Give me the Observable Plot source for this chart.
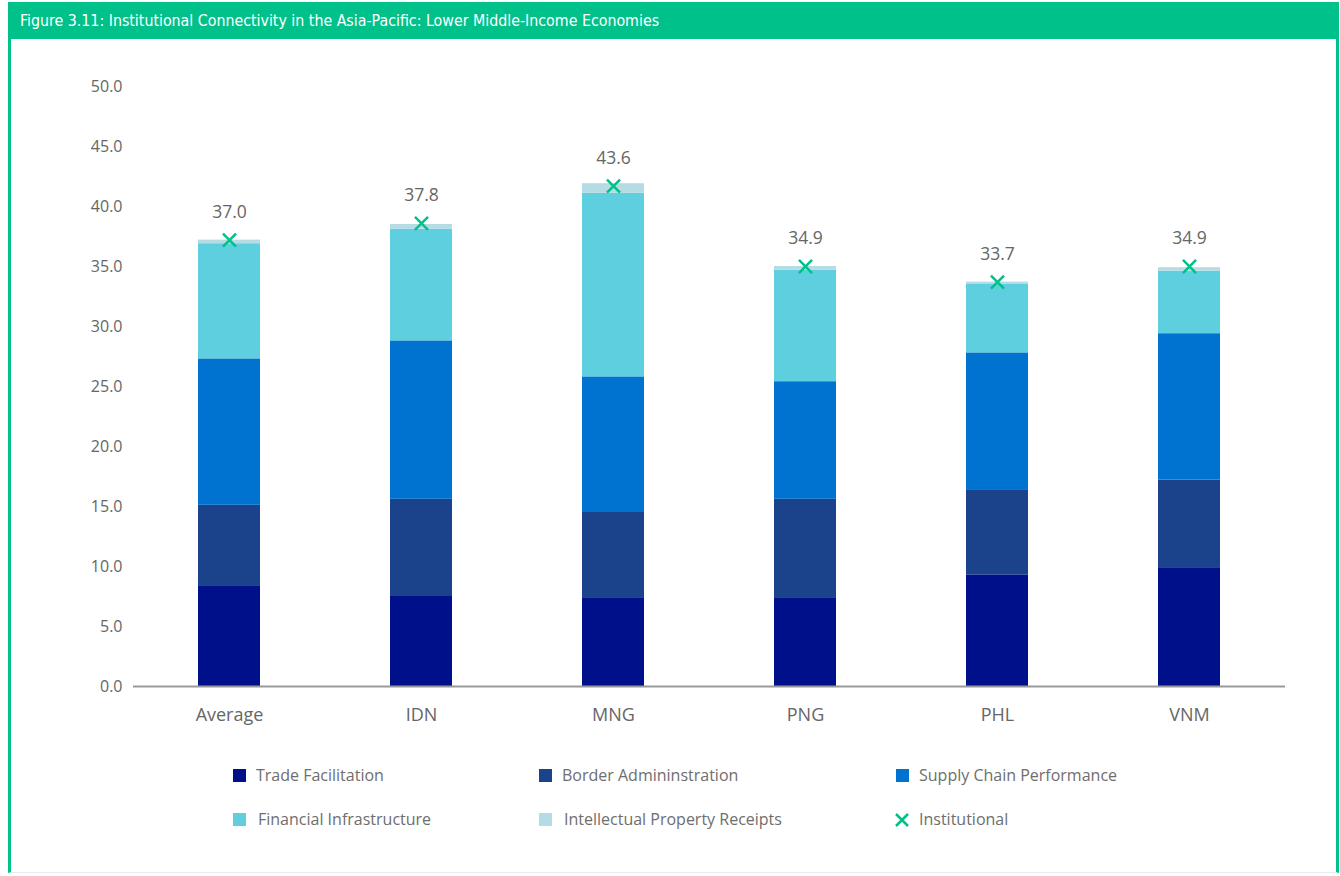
<!DOCTYPE html>
<html>
<head>
<meta charset="utf-8">
<script src="https://cdn.jsdelivr.net/npm/d3@7"></script>
<script src="https://cdn.jsdelivr.net/npm/@observablehq/plot@0.6"></script>
<style>
  html, body { margin: 0; padding: 0; background: #ffffff; }
  body { width: 1340px; height: 876px; position: relative; overflow: hidden; font-family: "Open Sans", "Noto Sans", sans-serif; }
  #frame { position: absolute; left: 8px; top: 2px; width: 1325px; height: 870px; border-left: 3px solid #00c18a; border-right: 3px solid #00c18a; border-bottom: 1px solid #e6ece9; }
  #title { position: absolute; left: 8px; top: 2px; width: 1331px; height: 37px; background: #00c18a; color: #ffffff;
           font-family: "Liberation Sans Narrow", "DejaVu Sans Condensed", sans-serif; font-stretch: condensed; font-size: 15.8px; line-height: 37px; padding-left: 12px; box-sizing: border-box; }
  #chart { position: absolute; left: 0; top: 40px; }
  .leg { position: absolute; font-size: 16px; color: #6e6e6e; white-space: nowrap; line-height: 20px; }
  .sw { position: absolute; width: 13px; height: 13px; }
</style>
</head>
<body>
<div id="frame"></div>
<div id="title">Figure 3.11: Institutional Connectivity in the Asia-Pacific: Lower Middle-Income Economies</div>
<div id="chart"></div>
<div id="legend"></div>
<script>
const economies = ["Average", "IDN", "MNG", "PNG", "PHL", "VNM"];
const seriesNames = ["Trade Facilitation", "Border Admininstration", "Supply Chain Performance", "Financial Infrastructure", "Intellectual Property Receipts"];
const seriesColors = ["#000f8a", "#1b438b", "#0072d0", "#5ecfdf", "#b5dbe4"];
const tradeFacilitation = [8.4, 7.5, 7.4, 7.4, 9.3, 9.9];
const borderAdministration = [6.7, 8.1, 7.1, 8.2, 7.1, 7.3];
const supplyChain = [12.2, 13.2, 11.3, 9.8, 11.4, 12.2];
const financialInfra = [9.6, 9.3, 15.3, 9.3, 5.7, 5.2];
const ipReceipts = [0.3, 0.4, 0.8, 0.3, 0.2, 0.3];
const institutional = [37.2, 38.6, 41.7, 35.0, 33.7, 35.0];
const institutionalLabels = ["37.0", "37.8", "43.6", "34.9", "33.7", "34.9"];
const yTicks = [0, 5, 10, 15, 20, 25, 30, 35, 40, 45, 50];
const green = "#00c18a";

const seriesValues = [tradeFacilitation, borderAdministration, supplyChain, financialInfra, ipReceipts];
const rows = [];
seriesNames.forEach((s, si) => economies.forEach((e, ei) => rows.push({economy: e, series: s, value: seriesValues[si][ei]})));
const points = economies.map((e, i) => ({economy: e, value: institutional[i], label: institutionalLabels[i]}));

const chart = Plot.plot({
  width: 1340,
  height: 710,
  marginTop: 46,
  marginBottom: 64,
  marginLeft: 133,
  marginRight: 55,
  style: {fontFamily: "'Open Sans', 'Noto Sans', sans-serif", fontSize: "16px", color: "#666666", background: "transparent"},
  x: {domain: economies, paddingInner: 0.677, paddingOuter: 0.3385, label: null},
  y: {domain: [0, 50], ticks: yTicks, label: null},
  color: {domain: seriesNames, range: seriesColors},
  marks: [
    Plot.barY(rows, Plot.stackY({order: seriesNames, x: "economy", y: "value", fill: "series"})),
    Plot.ruleY([0], {stroke: "#999999", strokeWidth: 2}),
    Plot.axisY({ticks: yTicks, tickFormat: d => d.toFixed(1), tickSize: 0, tickPadding: 11, fontSize: 16, fill: "#666666"}),
    Plot.axisX({tickSize: 0, tickPadding: 22, fontSize: 18, fill: "#666666"}),
    Plot.dot(points, {x: "economy", y: "value", symbol: "times", r: 6, stroke: green, strokeWidth: 2.5}),
    Plot.text(points, {x: "economy", y: "value", text: "label", dy: -28, fontSize: 17.5, fill: "#666666"})
  ]
});
document.getElementById("chart").appendChild(chart);

// legend (HTML), entries derived from the series arrays
const legendPos = [[233, 776], [539, 776], [896, 776], [233, 820], [539, 820]];
const textX = [256, 562, 919, 258, 564];
const legend = document.getElementById("legend");
seriesNames.forEach((s, i) => {
  const sw = document.createElement("div");
  sw.className = "sw";
  sw.style.left = legendPos[i][0] + "px";
  sw.style.top = (legendPos[i][1] - 7) + "px";
  sw.style.background = seriesColors[i];
  legend.appendChild(sw);
  const t = document.createElement("div");
  t.className = "leg";
  t.style.left = textX[i] + "px";
  t.style.top = (legendPos[i][1] - 11) + "px";
  t.textContent = s;
  legend.appendChild(t);
});
// institutional marker legend
const mk = document.createElementNS("http://www.w3.org/2000/svg", "svg");
mk.setAttribute("width", 16); mk.setAttribute("height", 16);
mk.style.position = "absolute"; mk.style.left = "894px"; mk.style.top = "812px";
mk.innerHTML = `<path d="M2,2L14,14M14,2L2,14" stroke="${green}" stroke-width="2.5"/>`;
legend.appendChild(mk);
const mt = document.createElement("div");
mt.className = "leg"; mt.style.left = "919px"; mt.style.top = "809px"; mt.textContent = "Institutional";
legend.appendChild(mt);
</script>
</body>
</html>
